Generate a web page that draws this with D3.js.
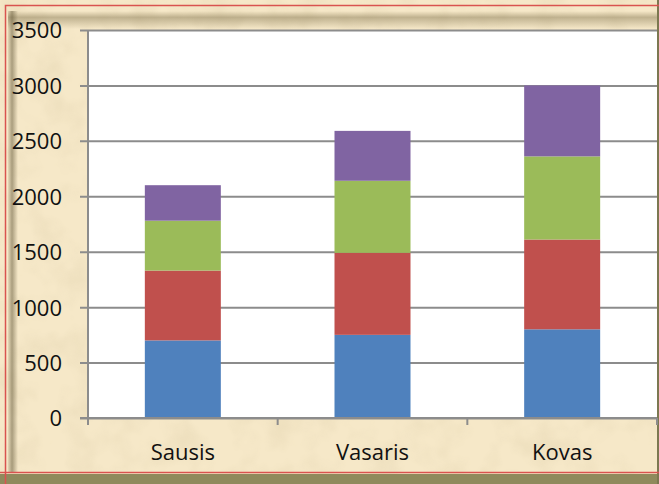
<!DOCTYPE html>
<html>
<head>
<meta charset="utf-8">
<script src="https://cdn.jsdelivr.net/npm/d3@7"></script>
<style>
  body { margin: 0; background: #fff; }
  svg text { font-family: "Open Sans", "Noto Sans", sans-serif; fill: #111; }
</style>
</head>
<body>
<svg id="chart"></svg>
<script>
// data
var months = ["Sausis", "Vasaris", "Kovas"];
var series1 = [700, 750, 800];
var series2 = [630, 740, 810];
var series3 = [450, 650, 750];
var series4 = [320, 450, 640];
var colors = ["#4F81BD", "#C0504D", "#9BBB59", "#8064A2"];
var yTicks = [0, 500, 1000, 1500, 2000, 2500, 3000, 3500];

var W = 659, H = 484;
var plot = {left: 88, right: 657, top: 30, bottom: 418};

var svg = d3.select("#chart").attr("width", W).attr("height", H);
var defs = svg.append("defs");

// parchment background
var noise = defs.append("filter").attr("id", "paper")
    .attr("x", 0).attr("y", 0).attr("width", "100%").attr("height", "100%");
noise.append("feTurbulence").attr("type", "fractalNoise")
    .attr("baseFrequency", "0.03").attr("numOctaves", 3).attr("seed", 4);
noise.append("feColorMatrix").attr("type", "matrix")
    .attr("values", "0 0 0 0 0.6  0 0 0 0 0.5  0 0 0 0 0.3  0 0 0 -1.2 0.7");
noise.append("feComposite").attr("in2", "SourceGraphic").attr("operator", "in");

var topShade = defs.append("linearGradient").attr("id", "topShade")
    .attr("x1", 0).attr("y1", 0).attr("x2", 0).attr("y2", 1);
topShade.append("stop").attr("offset", "0%").attr("stop-color", "#7a6a40").attr("stop-opacity", 0.0);
topShade.append("stop").attr("offset", "35%").attr("stop-color", "#6e603a").attr("stop-opacity", 0.4);
topShade.append("stop").attr("offset", "100%").attr("stop-color", "#6e603a").attr("stop-opacity", 0.0);

var leftShade = defs.append("linearGradient").attr("id", "leftShade")
    .attr("x1", 0).attr("y1", 0).attr("x2", 1).attr("y2", 0);
leftShade.append("stop").attr("offset", "0%").attr("stop-color", "#5d5233").attr("stop-opacity", 0.1);
leftShade.append("stop").attr("offset", "40%").attr("stop-color", "#5d5233").attr("stop-opacity", 0.5);
leftShade.append("stop").attr("offset", "100%").attr("stop-color", "#5d5233").attr("stop-opacity", 0.0);

svg.append("rect").attr("width", W).attr("height", H).attr("fill", "#f6e8c8");
svg.append("rect").attr("width", W).attr("height", H).attr("fill", "#f6e8c8")
    .attr("filter", "url(#paper)").attr("opacity", 0.35);
svg.append("rect").attr("x", 8).attr("y", 11).attr("width", W - 8).attr("height", 18)
    .attr("fill", "url(#topShade)");
svg.append("rect").attr("x", 8).attr("y", 11).attr("width", 10).attr("height", 462)
    .attr("fill", "url(#leftShade)");
svg.append("rect").attr("x", 0).attr("y", 474).attr("width", W).attr("height", 10).attr("fill", "#8f8a5c");
svg.append("rect").attr("x", 657).attr("y", 0).attr("width", 2).attr("height", H).attr("fill", "#7c7850");
svg.append("path").attr("d", "M5.5,484 V5.5 H659 M0,472.5 H659")
    .attr("fill", "none").attr("stroke", "#d9534f").attr("stroke-width", 1.5);

// plot area
svg.append("rect").attr("x", plot.left).attr("y", plot.top)
    .attr("width", plot.right - plot.left).attr("height", plot.bottom - plot.top)
    .attr("fill", "#fff");

var x = d3.scaleBand().domain(months).range([plot.left, plot.right]).paddingInner(0).paddingOuter(0);
var y = d3.scaleLinear().domain([0, 3500]).range([plot.bottom, plot.top]);

// gridlines + y labels
var yAxis = d3.axisLeft(y).tickValues(yTicks).tickSize(-(plot.right - plot.left) - 8)
    .tickPadding(18).tickFormat(d3.format("d"));
var yg = svg.append("g").attr("transform", "translate(" + plot.left + ",0)").call(yAxis);
yg.select(".domain").remove();
yg.selectAll(".tick line").attr("x1", -8).attr("x2", plot.right - plot.left)
    .attr("stroke", "#8c8c8c").attr("stroke-width", 2);
yg.selectAll(".tick text").attr("font-size", 22).attr("x", -26).attr("dy", "0.36em")
    .style("font-family", "'Open Sans', sans-serif").attr("fill", "#111");

// stacked bars
var rows = months.map(function(m, i) {
    return {m: m, s0: series1[i], s1: series2[i], s2: series3[i], s3: series4[i]};
});
var stack = d3.stack().keys(["s0", "s1", "s2", "s3"])(rows);
var barW = 76;
svg.selectAll("g.layer").data(stack).enter().append("g").attr("class", "layer")
    .attr("fill", function(d, i) { return colors[i]; })
    .selectAll("rect").data(function(d) { return d; }).enter().append("rect")
    .attr("x", function(d) { return x(d.data.m) + x.bandwidth() / 2 - barW / 2; })
    .attr("width", barW)
    .attr("y", function(d) { return y(d[1]); })
    .attr("height", function(d) { return y(d[0]) - y(d[1]); });

// axes lines
svg.append("line").attr("x1", plot.left).attr("x2", plot.left)
    .attr("y1", plot.top).attr("y2", plot.bottom + 7)
    .attr("stroke", "#8c8c8c").attr("stroke-width", 2);
var xAxis = d3.axisBottom(x).tickSize(0).tickPadding(26);
var xg = svg.append("g").attr("transform", "translate(0," + plot.bottom + ")").call(xAxis);
xg.select(".domain").remove();
xg.selectAll(".tick text").attr("font-size", 22).attr("fill", "#111")
    .style("font-family", "'Open Sans', sans-serif");
var bounds = months.map(function(m) { return x(m); }).concat([plot.right]);
svg.selectAll("line.xtick").data(bounds.slice(1)).enter().append("line")
    .attr("class", "xtick")
    .attr("x1", function(d) { return d; }).attr("x2", function(d) { return d; })
    .attr("y1", plot.bottom).attr("y2", plot.bottom + 7)
    .attr("stroke", "#8c8c8c").attr("stroke-width", 2);
svg.append("line").attr("x1", plot.left - 8).attr("x2", plot.right)
    .attr("y1", plot.bottom).attr("y2", plot.bottom)
    .attr("stroke", "#8c8c8c").attr("stroke-width", 2);
</script>
</body>
</html>
